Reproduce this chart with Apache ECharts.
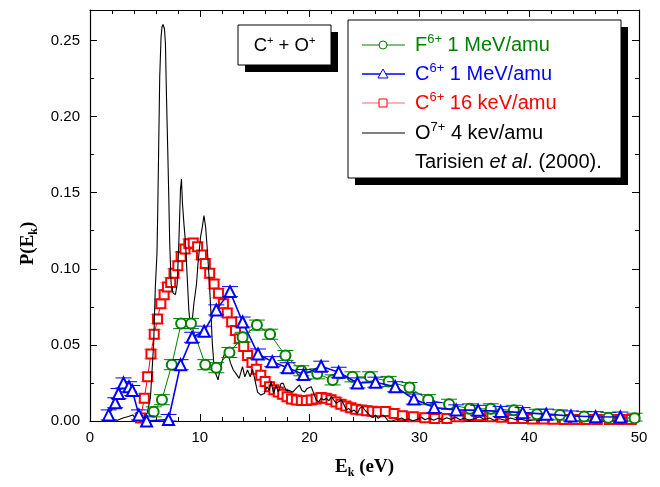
<!DOCTYPE html>
<html>
<head>
<meta charset="utf-8">
<script src="https://cdn.jsdelivr.net/npm/echarts@6/dist/echarts.min.js"></script>
<style>html,body{margin:0;padding:0;background:#fff}#c{width:660px;height:487px}</style>
</head>
<body>
<div id="c"></div>
<script>
// ---- axes ----
const xMin = 0, xMax = 50, xStep = 10;
const yMin = 0, yMax = 0.27, yStep = 0.05;

// ---- series: [E_k (eV), P(E_k)] ----
const greenF1MeV = [
  [5.8,0.006],[6.55,0.014],[7.45,0.037],[8.3,0.064],[9.2,0.064],[10.5,0.037],[11.5,0.035],
  [12.7,0.045],[13.9,0.055],[15.2,0.063],[16.4,0.057],[17.8,0.043],[19.25,0.033],[20.7,0.031],
  [22.1,0.027],[23.9,0.029],[25.5,0.029],[27.2,0.026],[29.1,0.022],[30.8,0.014],[32.7,0.011],
  [34.6,0.008],[36.5,0.008],[38.6,0.007],[40.7,0.0044],[42.8,0.004],[45.0,0.003],[47.2,0.0022],[49.6,0.0018]
];
const blueC1MeV = [
  [1.7,0.004],[2.3,0.012],[2.6,0.018],[3.05,0.025],[3.55,0.0225],[3.85,0.02],[4.45,0.004],[5.15,0.0],
  [7.15,0.001],[8.25,0.037],[9.3,0.055],[10.4,0.059],[11.5,0.073],[12.75,0.085],[13.9,0.065],
  [15.3,0.044],[16.6,0.039],[18.0,0.035],[19.45,0.0305],[21.05,0.036],[22.65,0.032],[24.35,0.025],
  [26.0,0.0255],[27.8,0.0225],[29.5,0.0144],[31.35,0.0088],[33.35,0.0073],[35.35,0.007],[37.4,0.0063],
  [39.4,0.0055],[41.55,0.0045],[43.8,0.0033],[46.05,0.0028],[48.3,0.0026]
];
const redC16keV = [
  [4.6,0.002],[4.95,0.015],[5.25,0.029],[5.55,0.044],[5.85,0.057],[6.15,0.067],[6.45,0.077],[6.75,0.083],
  [7.05,0.088],[7.35,0.091],[7.65,0.097],[8.0,0.102],[8.3,0.108],[8.65,0.113],[9.0,0.1165],[9.4,0.117],
  [9.8,0.1145],[10.15,0.109],[10.5,0.1035],[10.9,0.097],[11.3,0.09],[11.7,0.084],[12.15,0.077],[12.5,0.071],
  [12.9,0.065],[13.25,0.0595],[13.6,0.054],[14.0,0.049],[14.35,0.043],[14.75,0.0385],[15.15,0.034],
  [15.55,0.03],[15.95,0.026],[16.35,0.0225],[16.75,0.0205],[17.15,0.019],[17.55,0.0175],[17.95,0.016],
  [18.35,0.0145],[18.8,0.0138],[19.25,0.0135],[19.7,0.0135],[20.15,0.0138],[20.6,0.0145],[21.05,0.0155],
  [21.5,0.015],[21.95,0.014],[22.4,0.0125],[22.85,0.011],[23.3,0.0098],[23.75,0.0087],[24.2,0.0077],
  [24.7,0.0072],[25.2,0.0068],[25.7,0.0064],[26.2,0.006],[26.9,0.0062],[27.7,0.005],[28.45,0.0035],
  [29.45,0.0028],[30.5,0.0022],[31.4,0.0017],[32.5,0.0017],[33.6,0.0028],[34.55,0.0035],[35.55,0.0035],
  [36.6,0.0028],[37.5,0.0024],[38.5,0.0017],[39.4,0.0017],[40.3,0.0013],[41.3,0.0013],[42.2,0.0011],
  [43.2,0.001],[44.2,0.001],[45.2,0.001],[46.2,0.001],[47.3,0.001],[48.3,0.001],[49.3,0.001]
];
const blackO4keV = [
  [1.5,0.0],[2.0,0.001],[2.5,0.0005],[3.0,0.002],[3.5,0.003],[3.9,0.004],[4.2,0.001],[4.55,0.0025],
  [4.9,0.002],[5.2,0.005],[5.5,0.015],[5.8,0.051],[5.95,0.088],[6.1,0.11],[6.17,0.138],[6.26,0.182],
  [6.35,0.226],[6.47,0.252],[6.56,0.259],[6.65,0.2605],[6.78,0.2577],[6.87,0.248],[6.96,0.215],
  [7.08,0.178],[7.17,0.149],[7.26,0.117],[7.39,0.09],[7.57,0.084],[7.78,0.083],[7.94,0.09],[8.09,0.117],
  [8.18,0.138],[8.24,0.152],[8.33,0.159],[8.42,0.143],[8.55,0.13],[8.7,0.117],[8.85,0.095],[9.0,0.073],
  [9.16,0.06],[9.31,0.066],[9.46,0.077],[9.7,0.09],[9.83,0.103],[10.07,0.121],[10.23,0.1275],[10.38,0.135],
  [10.53,0.1275],[10.69,0.112],[10.84,0.095],[11.0,0.073],[11.14,0.051],[11.3,0.0356],[11.45,0.031],
  [11.66,0.027],[11.84,0.0335],[12.06,0.04],[12.36,0.0466],[12.58,0.044],[12.8,0.038],[13.05,0.0335],
  [13.28,0.0313],[13.58,0.028],[13.89,0.0357],[14.1,0.029],[14.35,0.0335],[14.59,0.029],[14.8,0.034],
  [15.02,0.027],[15.26,0.019],[15.57,0.017],[15.87,0.018],[16.12,0.0225],[16.33,0.02],[16.48,0.026],
  [16.73,0.018],[16.94,0.0236],[17.16,0.019],[17.4,0.0247],[17.6,0.0247],[17.86,0.02],[18.16,0.02],
  [18.47,0.019],[18.77,0.0214],[19.08,0.0236],[19.3,0.02],[19.54,0.019],[19.78,0.0214],[20.15,0.0225],
  [20.39,0.018],[20.6,0.0138],[20.82,0.0127],[21.06,0.0149],[21.3,0.0138],[21.52,0.0149],[21.76,0.0133],
  [21.98,0.016],[22.2,0.0138],[22.44,0.0116],[22.65,0.0127],[22.9,0.0138],[23.14,0.0105],[23.35,0.0072],
  [23.56,0.0083],[23.8,0.0061],[24.05,0.0072],[24.35,0.005],[24.57,0.0083],[24.8,0.0094],[25.03,0.0072],
  [25.33,0.005],[25.58,0.0028],[25.79,0.0024],[26.0,0.0039],[26.25,0.0017],[26.5,0.0033],[26.7,0.0039],
  [26.93,0.0022],[27.17,0.0],[27.47,0.0],[27.78,0.0007],[28.08,0.0011],[28.4,0.002],[28.7,0.0005],
  [29.0,0.0015],[29.4,0.0],[29.8,0.0012],[30.2,0.0025],[30.5,0.0008],[30.9,0.002],[31.3,0.0005],
  [31.7,0.0018],[32.1,0.0008],[32.5,0.0022],[32.9,0.001],[33.3,0.0025],[33.7,0.0008],[34.1,0.002],
  [34.5,0.0005],[35.0,0.0015],[35.5,0.0028],[35.9,0.001],[36.4,0.002],[36.8,0.0005],[37.3,0.0015],
  [37.8,0.0005],[38.3,0.002],[38.8,0.0008],[39.3,0.0012],[39.8,0.0],[40.5,0.0008],[41.2,0.0]
];
// half-height of the error bars
const greenErr = 0.0033, blueErr = 0.0033, redErr = 0.003;

// ---- text ----
const xName = ['E', 'k', ' (eV)'];
const yName = ['P(E', 'k', ')'];
const boxLabel = ['C', '+', ' + O', '+'];
const legendRows = [
  {color:'#008000', parts:['F','6+',' 1 MeV/amu']},
  {color:'#0000ff', parts:['C','6+',' 1 MeV/amu']},
  {color:'#ff0000', parts:['C','6+',' 16 keV/amu']},
  {color:'#000000', parts:['O','7+',' 4 kev/amu']}
];
const refText = ['Tarisien ', 'et al', '. (2000).'];

const SANS = 'Liberation Sans, Arial, sans-serif';
const SERIF = 'Liberation Serif, Times New Roman, serif';

const chart = echarts.init(document.getElementById('c'), null, {renderer:'canvas'});

function errSeries(data, err, color, capHalf, z) {
  return {
    type:'custom', z: z, silent:true, xAxisIndex:0, yAxisIndex:0,
    data: data.map(d => [d[0], Math.max(yMin, d[1]-err), d[1]+err]),
    renderItem: function (params, api) {
      const x = api.value(0);
      const lo = api.coord([x, api.value(1)]);
      const hi = api.coord([x, api.value(2)]);
      const st = {stroke: color, lineWidth: 1};
      return {type:'group', children:[
        {type:'line', shape:{x1:lo[0], y1:lo[1], x2:hi[0], y2:hi[1]}, style:st},
        {type:'line', shape:{x1:lo[0]-capHalf, y1:lo[1], x2:lo[0]+capHalf, y2:lo[1]}, style:st},
        {type:'line', shape:{x1:hi[0]-capHalf, y1:hi[1], x2:hi[0]+capHalf, y2:hi[1]}, style:st}
      ]};
    }
  };
}

const yLabelFmt = v => (Math.abs(v/yStep - Math.round(v/yStep)) < 1e-6) ? v.toFixed(2) : '';

const axisCommon = {
  axisLine:{show:true, onZero:false, lineStyle:{color:'#000', width:1.2}},
  axisTick:{show:true, inside:true, length:7, lineStyle:{color:'#000', width:1}},
  minorTick:{show:true, length:4, lineStyle:{color:'#000', width:1}},
  splitLine:{show:false}
};

// legend graphic
const LX = 348, LY = 20, LW = 273, LH = 158, SH = 7;
const rowY = [45, 74, 103, 133, 162];
const FS = 20, SFS = 13;
const legendGraphic = [
  {type:'rect', z:50, shape:{x:LX+SH, y:LY+SH, width:LW, height:LH}, style:{fill:'#000'}},
  {type:'rect', z:51, shape:{x:LX, y:LY, width:LW, height:LH}, style:{fill:'#fff', stroke:'#000', lineWidth:1}}
];
const lineColors = ['#008000', '#0000ff', 'rgba(255,0,0,0.6)', '#000'];
const symbols = ['circle', 'triangle', 'rect', null];
legendRows.forEach((r, i) => {
  const y = rowY[i];
  legendGraphic.push({type:'line', z:52, shape:{x1:362, y1:y, x2:405, y2:y},
    style:{stroke: lineColors[i], lineWidth: i===1 ? 1.6 : 1}});
  if (symbols[i] === 'circle') {
    legendGraphic.push({type:'circle', z:53, shape:{cx:383, cy:y, r:4}, style:{fill:'#fff', stroke:r.color, lineWidth:1}});
  } else if (symbols[i] === 'triangle') {
    legendGraphic.push({type:'polygon', z:53, shape:{points:[[383,y-5],[378,y+4],[388,y+4]]}, style:{fill:'#fff', stroke:r.color, lineWidth:1}});
  } else if (symbols[i] === 'rect') {
    legendGraphic.push({type:'rect', z:53, shape:{x:379, y:y-4, width:8, height:8}, style:{fill:'#fff', stroke:r.color, lineWidth:1}});
  }
  legendGraphic.push({type:'text', z:53, x:415, y:y, style:{
    text:'{t|'+r.parts[0]+'}{s|'+r.parts[1]+'}{t|'+r.parts[2]+'}',
    verticalAlign:'middle', fill:r.color,
    rich:{t:{fontSize:FS, fontFamily:SANS, fill:r.color}, s:{fontSize:SFS, fontFamily:SANS, fill:r.color, padding:[0,0,11,0]}}
  }});
});
legendGraphic.push({type:'text', z:53, x:415, y:rowY[4], style:{
  text:'{t|'+refText[0]+'}{i|'+refText[1]+'}{t|'+refText[2]+'}', verticalAlign:'middle',
  rich:{t:{fontSize:FS, fontFamily:SANS, fill:'#000'}, i:{fontSize:FS, fontFamily:SANS, fontStyle:'italic', fill:'#000'}}
}});
// C+ + O+ box
const BX = 238, BY = 25, BW = 93, BH = 40;
legendGraphic.push(
  {type:'rect', z:50, shape:{x:BX+SH, y:BY+SH, width:BW, height:BH}, style:{fill:'#000'}},
  {type:'rect', z:51, shape:{x:BX, y:BY, width:BW, height:BH}, style:{fill:'#fff', stroke:'#000', lineWidth:1}},
  {type:'text', z:53, x:BX+BW/2, y:BY+BH/2+1, style:{
    text:'{t|'+boxLabel[0]+'}{s|'+boxLabel[1]+'}{t|'+boxLabel[2]+'}{s|'+boxLabel[3]+'}',
    align:'center', verticalAlign:'middle',
    rich:{t:{fontSize:18.5, fontFamily:SANS, fill:'#000'}, s:{fontSize:11, fontFamily:SANS, fill:'#000', padding:[0,0,11,0]}}
  }}
);

const option = {
  animation:false,
  backgroundColor:'#fff',
  grid:{left:90, right:21, top:10, bottom:66, containLabel:false},
  xAxis:[
    Object.assign({}, axisCommon, {
      type:'value', min:xMin, max:xMax, interval:xStep, position:'bottom',
      minorTick:{show:true, splitNumber:5, length:4, lineStyle:{color:'#000'}},
      axisLabel:{fontSize:15, fontFamily:SANS, color:'#000', margin:9},
      name:'{b|'+xName[0]+'}{s|'+xName[1]+'}{b|'+xName[2]+'}', nameLocation:'middle', nameGap:34,
      nameTextStyle:{rich:{
        b:{fontSize:19, fontWeight:'bold', fontFamily:SERIF, color:'#000'},
        s:{fontSize:12, fontWeight:'bold', fontFamily:SERIF, color:'#000', padding:[12,0,0,0]}
      }}
    }),
    Object.assign({}, axisCommon, {
      type:'value', min:xMin, max:xMax, interval:xStep, position:'top',
      minorTick:{show:true, splitNumber:5, length:4, lineStyle:{color:'#000'}},
      axisLabel:{show:false}
    })
  ],
  yAxis:[
    Object.assign({}, axisCommon, {
      type:'value', min:yMin, max:yMax, interval:yStep, position:'left',
      minorTick:{show:true, splitNumber:2, length:4, lineStyle:{color:'#000'}},
      axisLabel:{fontSize:15, fontFamily:SANS, color:'#000', margin:10, formatter:yLabelFmt},
      name:'{b|'+yName[0]+'}{s|'+yName[1]+'}{b|'+yName[2]+'}', nameLocation:'middle', nameGap:48,
      nameTextStyle:{padding:[0,56,0,0], rich:{
        b:{fontSize:19, fontWeight:'bold', fontFamily:SERIF, color:'#000'},
        s:{fontSize:12, fontWeight:'bold', fontFamily:SERIF, color:'#000', padding:[12,0,0,0]}
      }}
    }),
    Object.assign({}, axisCommon, {
      type:'value', min:yMin, max:yMax, interval:yStep, position:'right',
      minorTick:{show:true, splitNumber:2, length:4, lineStyle:{color:'#000'}},
      axisLabel:{show:false}
    })
  ],
  series:[
    errSeries(redC16keV, redErr, 'rgba(255,0,0,0.4)', 7, 3),
    {type:'line', name:'C6+ 16 keV/amu', data:redC16keV, z:4, symbol:'emptyRect', symbolSize:9,
     lineStyle:{color:'#ff0000', width:1}, itemStyle:{color:'#ff0000', borderWidth:1}},
    {type:'line', name:'O7+ 4 kev/amu', data:blackO4keV, z:5, symbol:'none',
     lineStyle:{color:'#000', width:1.1}},
    errSeries(greenF1MeV, greenErr, '#008000', 8, 6),
    {type:'line', name:'F6+ 1 MeV/amu', data:greenF1MeV, z:7, symbol:'emptyCircle', symbolSize:10,
     lineStyle:{color:'#008000', width:1}, itemStyle:{color:'#008000', borderWidth:1}},
    errSeries(blueC1MeV, blueErr, '#0000ff', 8, 8),
    {type:'line', name:'C6+ 1 MeV/amu', data:blueC1MeV, z:9, symbol:'emptyTriangle', symbolSize:11,
     lineStyle:{color:'#0000ff', width:1.6}, itemStyle:{color:'#0000ff', borderWidth:1.2}}
  ],
  graphic: legendGraphic
};
chart.setOption(option);
</script>
</body>
</html>
